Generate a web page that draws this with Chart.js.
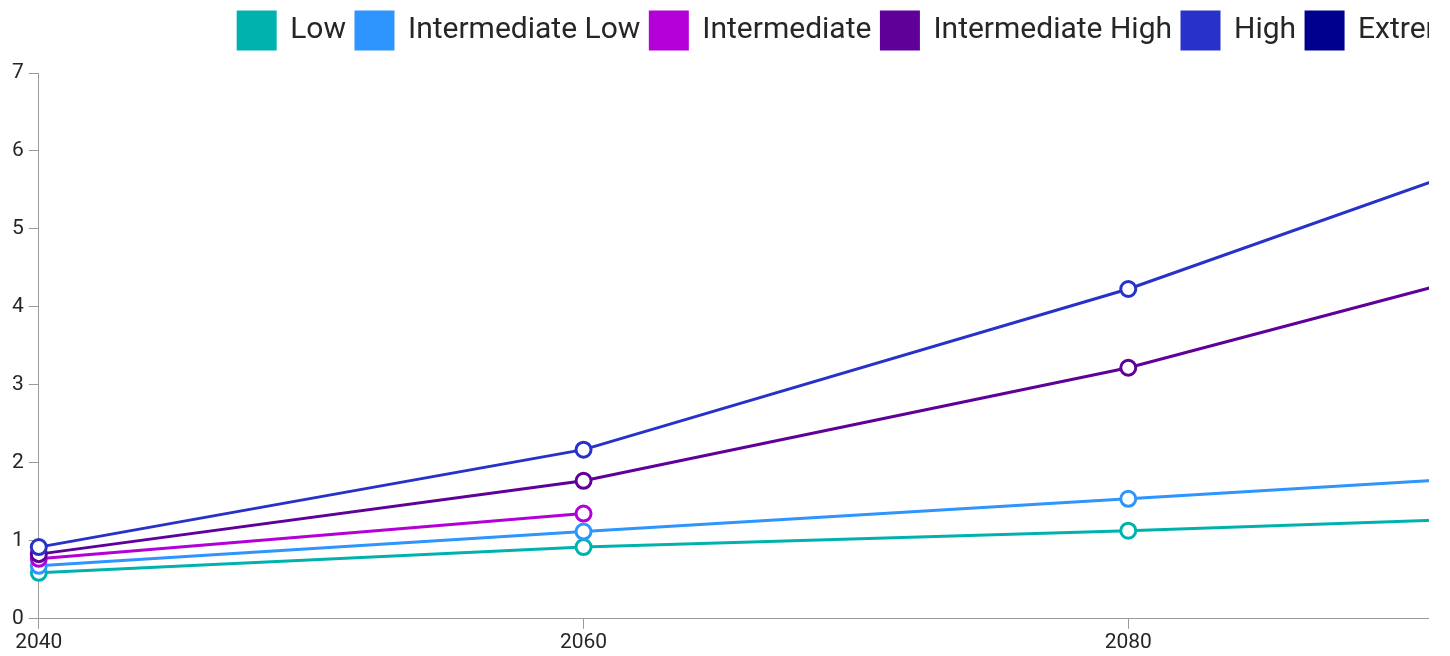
<!DOCTYPE html>
<html>
<head>
<meta charset="utf-8">
<title>Sea level rise scenarios</title>
<script src="https://cdn.jsdelivr.net/npm/chart.js@4/dist/chart.umd.min.js"></script>
<style>
    html, body { margin: 0; padding: 0; background: #fff; }
    .chart-frame { width: 1429px; height: 656px; overflow: hidden; }
    #scenario-chart { display: block; }
</style>
</head>
<body>
<div class="chart-frame">
    <canvas id="scenario-chart" width="1753" height="656"></canvas>
</div>
<script>
'use strict';

// Projection years and scenario values
const years = [2040, 2060, 2080, 2100];
const lowValues = [0.59, 0.92, 1.13, 1.37];
const intermediateLowValues = [0.68, 1.12, 1.54, 1.96];
const intermediateValues = [0.77, 1.35, null, null];
const intermediateHighValues = [0.83, 1.77, 3.22, 5.07];
const highValues = [0.92, 2.17, 4.23, 6.70];
const extremeValues = [null, null, null, null];
const yTicks = [0, 1, 2, 3, 4, 5, 6, 7];

const scenarios = [
    { label: 'Low', values: lowValues, color: '#00b2ae' },
    { label: 'Intermediate Low', values: intermediateLowValues, color: '#2e95ff' },
    { label: 'Intermediate', values: intermediateValues, color: '#b300d7' },
    { label: 'Intermediate High', values: intermediateHighValues, color: '#5f0099' },
    { label: 'High', values: highValues, color: '#2832c8' },
    { label: 'Extreme', values: extremeValues, color: '#00008f' }
];

const axisColor = '#9a9a9a';
const textColor = '#262626';

// Extra space under the legend row, and a small nudge to the right
const legendPlacement = {
    id: 'legendPlacement',
    beforeInit: function(chart) {
        const fit = chart.legend.fit;
        chart.legend.fit = function() {
            fit.call(this);
            this.height += 14;
        };
    },
    afterLayout: function(chart) {
        chart.legend.left += 13;
        chart.legend.right += 13;
    }
};

function buildDatasets() {
    return scenarios.map(function(s, i) {
        return {
            label: s.label,
            data: s.values,
            borderColor: s.color,
            backgroundColor: s.color,
            borderWidth: 3,
            pointRadius: 7.5,
            pointBorderWidth: 3,
            pointBackgroundColor: '#ffffff',
            pointBorderColor: s.color,
            tension: 0,
            spanGaps: false,
            // later scenarios sit on top of earlier ones
            order: scenarios.length - i
        };
    });
}

function initializeChart() {
    const ctx = document.getElementById('scenario-chart');
    new Chart(ctx, {
        type: 'line',
        data: {
            labels: years,
            datasets: buildDatasets()
        },
        plugins: [legendPlacement],
        options: {
            responsive: false,
            animation: false,
            layout: {
                padding: { left: 7, right: 80, top: 2, bottom: 0 }
            },
            scales: {
                x: {
                    type: 'category',
                    offset: false,
                    border: { display: true, color: axisColor, width: 1 },
                    grid: { drawOnChartArea: false, drawTicks: true, tickLength: 10, color: axisColor },
                    ticks: {
                        color: textColor,
                        font: { family: 'Roboto', size: 21, lineHeight: 1.15 },
                        padding: 1.5,
                        maxRotation: 0
                    }
                },
                y: {
                    min: yTicks[0],
                    max: yTicks[yTicks.length - 1],
                    border: { display: true, color: axisColor, width: 1 },
                    grid: { drawOnChartArea: false, drawTicks: true, tickLength: 10, color: axisColor },
                    ticks: {
                        stepSize: 1,
                        color: textColor,
                        font: { family: 'Roboto', size: 21 },
                        padding: 5
                    },
                    afterBuildTicks: function(axis) {
                        axis.ticks = yTicks.map(v => ({ value: v }));
                    }
                }
            },
            plugins: {
                legend: {
                    position: 'top',
                    align: 'center',
                    labels: {
                        boxWidth: 37,
                        boxHeight: 37,
                        padding: 10,
                        color: textColor,
                        font: { family: 'Roboto', size: 30 },
                        sort: (a, b) => a.datasetIndex - b.datasetIndex
                    }
                },
                tooltip: { enabled: false }
            }
        }
    });
}

initializeChart();
</script>
</body>
</html>
